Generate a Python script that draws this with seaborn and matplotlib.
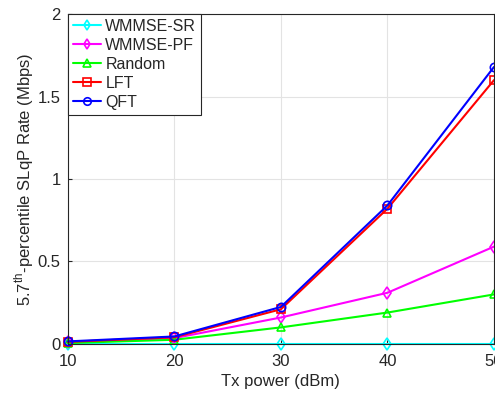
import numpy as np
import pandas as pd
import seaborn as sns
import matplotlib
matplotlib.use('Agg')
import matplotlib.pyplot as plt

# data
tx_power = [10, 20, 30, 40, 50]
wmmse_sr = [0.0, 0.0, 0.0, 0.0, 0.0]
wmmse_pf = [0.010, 0.035, 0.16, 0.31, 0.59]
random_sel = [0.005, 0.025, 0.10, 0.19, 0.30]
lft = [0.012, 0.040, 0.21, 0.82, 1.60]
qft = [0.015, 0.045, 0.224, 0.84, 1.68]

names = ['WMMSE-SR', 'WMMSE-PF', 'Random', 'LFT', 'QFT']
series = [wmmse_sr, wmmse_pf, random_sel, lft, qft]
colors = ['#00FFFF', '#FF00FF', '#00FF00', '#FF0000', '#0000FF']
markers = ['d', 'd', '^', 's', 'o']

sns.set_style('whitegrid', {'grid.color': '#e3e3e3', 'axes.edgecolor': '#262626',
                            'xtick.bottom': True, 'ytick.left': True})
plt.rcParams['font.family'] = ['Liberation Sans', 'DejaVu Sans']
plt.rcParams['mathtext.fontset'] = 'custom'
plt.rcParams['mathtext.rm'] = 'Liberation Sans'
plt.rcParams['xtick.direction'] = 'in'
plt.rcParams['ytick.direction'] = 'in'

fig = plt.figure(figsize=(4.95, 3.93), dpi=100)
ax = fig.add_axes([0.137, 0.125, 0.861, 0.839])

for name, vals, c, m in zip(names, series, colors, markers):
    df = pd.DataFrame({'Tx power (dBm)': tx_power, 'rate': vals})
    sns.lineplot(data=df, x='Tx power (dBm)', y='rate', ax=ax, color=c, marker=m,
                 markersize=6, markerfacecolor='none', markeredgecolor=c,
                 markeredgewidth=1.2, linewidth=1.5, label=name, clip_on=False)

ax.set_xlim(10, 50)
ax.set_ylim(0, 2)
ax.set_xticks([10, 20, 30, 40, 50])
ax.set_yticks([0, 0.5, 1, 1.5, 2])
ax.set_yticklabels(['0', '0.5', '1', '1.5', '2'])
ax.tick_params(labelsize=12, length=3, color='#262626', labelcolor='#262626')
ax.tick_params(axis='x', pad=7)
ax.tick_params(axis='y', pad=5)
ax.set_xlabel('Tx power (dBm)', fontsize=12, color='#262626', labelpad=4)
ax.set_ylabel(r'5.7$^{\mathrm{th}}$-percentile SLqP Rate (Mbps)', fontsize=12,
              color='#262626', labelpad=1)
for s in ax.spines.values():
    s.set_linewidth(0.8)

leg = ax.legend(loc='upper left', fontsize=11.5, fancybox=False, edgecolor='#262626',
                framealpha=1, borderaxespad=0, handlelength=1.8, labelspacing=0.25,
                borderpad=0.3, handletextpad=0.25, markerscale=0.9)
leg.get_frame().set_linewidth(0.8)

fig.savefig('out.png', dpi=100)
